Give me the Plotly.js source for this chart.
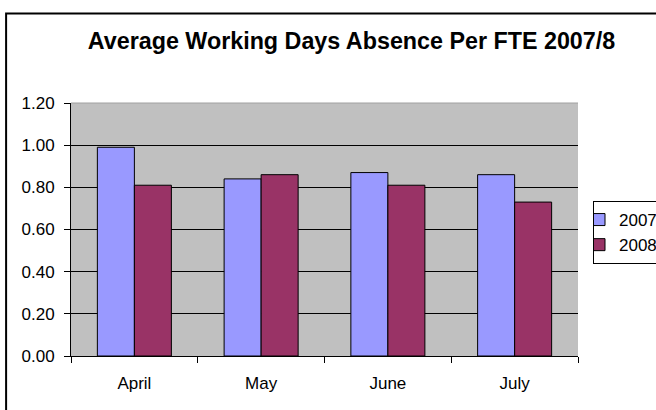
<!DOCTYPE html>
<html>
<head>
<meta charset="utf-8">
<script src="https://cdn.plot.ly/plotly-3.0.1.min.js"></script>
<style>html,body{margin:0;padding:0;background:#fff;}#chart{width:656px;height:410px;}</style>
</head>
<body>
<div id="chart"></div>
<script>
const months = ["April", "May", "June", "July"];
const series2007 = [0.99, 0.84, 0.87, 0.86];
const series2008 = [0.81, 0.86, 0.81, 0.73];
const yTicks = [0, 0.2, 0.4, 0.6, 0.8, 1.0, 1.2];

const font = "Liberation Sans, Arial, sans-serif";

const traces = [
  {type: "bar", name: "2007", x: months, y: series2007,
   marker: {color: "#9999FF", line: {color: "#000000", width: 1}}},
  {type: "bar", name: "2008", x: months, y: series2008,
   marker: {color: "#993366", line: {color: "#000000", width: 1}}}
];

const layout = {
  width: 656, height: 410,
  margin: {l: 71, r: 78, t: 103, b: 54, autoexpand: false},
  paper_bgcolor: "#ffffff",
  plot_bgcolor: "#C0C0C0",
  barmode: "group",
  bargap: 0.416,
  bargroupgap: 0,
  font: {family: font, size: 17, color: "#000"},
  title: {text: "<b>Average Working Days Absence Per FTE 2007/8</b>",
          font: {family: font, size: 23.3, color: "#000"},
          x: 351.5 / 656, xanchor: "center", xref: "container",
          y: 1 - 41 / 410, yref: "container", yanchor: "middle"},
  xaxis: {type: "category", showline: true, linecolor: "#000", linewidth: 1,
          ticks: "outside", tickson: "boundaries", ticklen: 6, tickcolor: "#000",
          showgrid: false, ticklabelstandoff: 12,
          tickfont: {family: font, size: 17, color: "#000"}},
  yaxis: {range: [0, 1.2], tickvals: yTicks, tickformat: ".2f",
          showline: true, linecolor: "#000", linewidth: 1,
          ticks: "outside", ticklen: 6, tickcolor: "#000",
          showgrid: true, gridcolor: "#000", gridwidth: 1, zeroline: false,
          ticklabelstandoff: 6,
          tickfont: {family: font, size: 17, color: "#000"}},
  legend: {xref: "container", yref: "container",
           x: 593 / 656, xanchor: "left", y: 1 - 201 / 410, yanchor: "top",
           bgcolor: "#fff", bordercolor: "#000", borderwidth: 1,
           font: {family: font, size: 17, color: "#000"},
           itemwidth: 30, indentation: -15},
  showlegend: true,
  shapes: [
    {type: "line", xref: "paper", yref: "paper", x0: 0, x1: 1, y0: 1, y1: 1,
     line: {color: "#A0A0A0", width: 1}, layer: "above"},
    {type: "rect", xref: "paper", yref: "paper", x0: -0.128, x1: 1.3, y0: -0.4, y1: 1.354,
     line: {color: "#000", width: 2}, fillcolor: "rgba(0,0,0,0)", layer: "above"}
  ]
};

Plotly.newPlot("chart", traces, layout, {displayModeBar: false, staticPlot: true});
</script>
</body>
</html>
